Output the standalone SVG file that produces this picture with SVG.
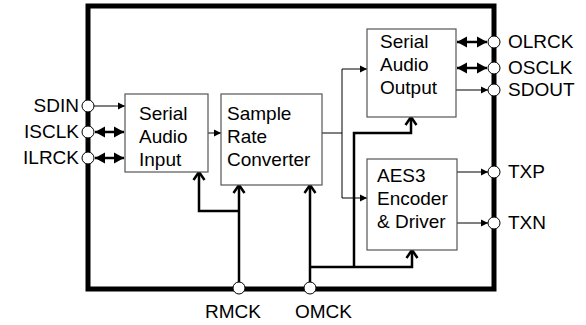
<svg xmlns="http://www.w3.org/2000/svg" width="586" height="325" viewBox="0 0 586 325">
<style>
text{font-family:"Liberation Sans",Arial,sans-serif;font-size:19px;fill:#000}
.box{fill:#fff;stroke:#555;stroke-width:1.2}
.pin{fill:#fff;stroke:#000;stroke-width:1}
.thin{fill:none;stroke:#000;stroke-width:1}
.thick{fill:none;stroke:#000;stroke-width:2.5}
</style>
<defs>
<marker id="a" markerUnits="userSpaceOnUse" markerWidth="8" markerHeight="8" refX="7" refY="4" orient="auto" overflow="visible"><path d="M0,0.5 L7,4 L0,7.5z" fill="#000"/></marker>
<marker id="b" markerUnits="userSpaceOnUse" markerWidth="11" markerHeight="11" refX="10" refY="5.5" orient="auto-start-reverse" overflow="visible"><path d="M0,0 L10,5.5 L0,11z" fill="#000"/></marker>
<marker id="c" markerUnits="userSpaceOnUse" markerWidth="12" markerHeight="12" refX="8" refY="6" orient="auto" overflow="visible"><path d="M0,0.5 L8,6 L0,11.5" fill="none" stroke="#000" stroke-width="2.5"/></marker>
</defs>
<g id="chip"><rect x="88" y="6" width="406" height="283" fill="none" stroke="#000" stroke-width="5"/></g>
<g id="connectors">
<path class="thin" d="M94,106 H125" marker-end="url(#a)"/>
<path class="thick" d="M95,132 H124" marker-start="url(#b)" marker-end="url(#b)"/>
<path class="thick" d="M95,158 H124" marker-start="url(#b)" marker-end="url(#b)"/>
<path class="thin" d="M208,133 H221" marker-end="url(#a)"/>
<path class="thin" d="M322,133 H342 M342,69 V198"/>
<path class="thin" d="M342,69 H367" marker-end="url(#a)"/>
<path class="thin" d="M342,198 H367" marker-end="url(#a)"/>
<path class="thick" d="M457,42 H487" marker-start="url(#b)" marker-end="url(#b)"/>
<path class="thick" d="M457,68 H487" marker-start="url(#b)" marker-end="url(#b)"/>
<path class="thin" d="M456,90 H488" marker-end="url(#a)"/>
<path class="thin" d="M457,172 H488" marker-end="url(#a)"/>
<path class="thin" d="M457,223 H488" marker-end="url(#a)"/>
<path class="thick" d="M239,288 V185" marker-end="url(#c)"/>
<path class="thick" d="M239,211 H199 V172" marker-end="url(#c)"/>
<path class="thick" d="M310,288 V185" marker-end="url(#c)"/>
<path class="thick" d="M310,267 H412 V250" marker-end="url(#c)"/>
<path class="thick" d="M354,267 V133 H411 V117" marker-end="url(#c)"/>
</g>
<g id="sai"><rect class="box" x="125" y="94" width="83" height="78"/><text x="139" y="120">Serial</text><text x="139" y="143">Audio</text><text x="139" y="166">Input</text></g>
<g id="src"><rect class="box" x="221" y="94" width="101" height="91"/><text x="227" y="120">Sample</text><text x="227" y="143">Rate</text><text x="227" y="166">Converter</text></g>
<g id="sao"><rect class="box" x="367" y="29" width="89" height="88"/><text x="380" y="48">Serial</text><text x="380" y="71">Audio</text><text x="380" y="94">Output</text></g>
<g id="aes"><rect class="box" x="367" y="159" width="90" height="91"/><text x="377" y="182">AES3</text><text x="377" y="205">Encoder</text><text x="377" y="228">&amp; Driver</text></g>
<g id="pins">
<circle class="pin" cx="88" cy="106" r="6"/><text x="79" y="112" text-anchor="end">SDIN</text>
<circle class="pin" cx="88" cy="132" r="6"/><text x="79" y="138" text-anchor="end">ISCLK</text>
<circle class="pin" cx="88" cy="158" r="6"/><text x="79" y="164" text-anchor="end">ILRCK</text>
<circle class="pin" cx="494" cy="42" r="6"/><text x="508" y="48">OLRCK</text>
<circle class="pin" cx="494" cy="68" r="6"/><text x="508" y="74">OSCLK</text>
<circle class="pin" cx="494" cy="90" r="6"/><text x="508" y="96">SDOUT</text>
<circle class="pin" cx="494" cy="172" r="6"/><text x="508" y="178">TXP</text>
<circle class="pin" cx="494" cy="223" r="6"/><text x="508" y="229">TXN</text>
<circle class="pin" cx="239" cy="288" r="6"/><text x="205" y="318">RMCK</text>
<circle class="pin" cx="310" cy="288" r="6"/><text x="295" y="318">OMCK</text>
</g>
</svg>
